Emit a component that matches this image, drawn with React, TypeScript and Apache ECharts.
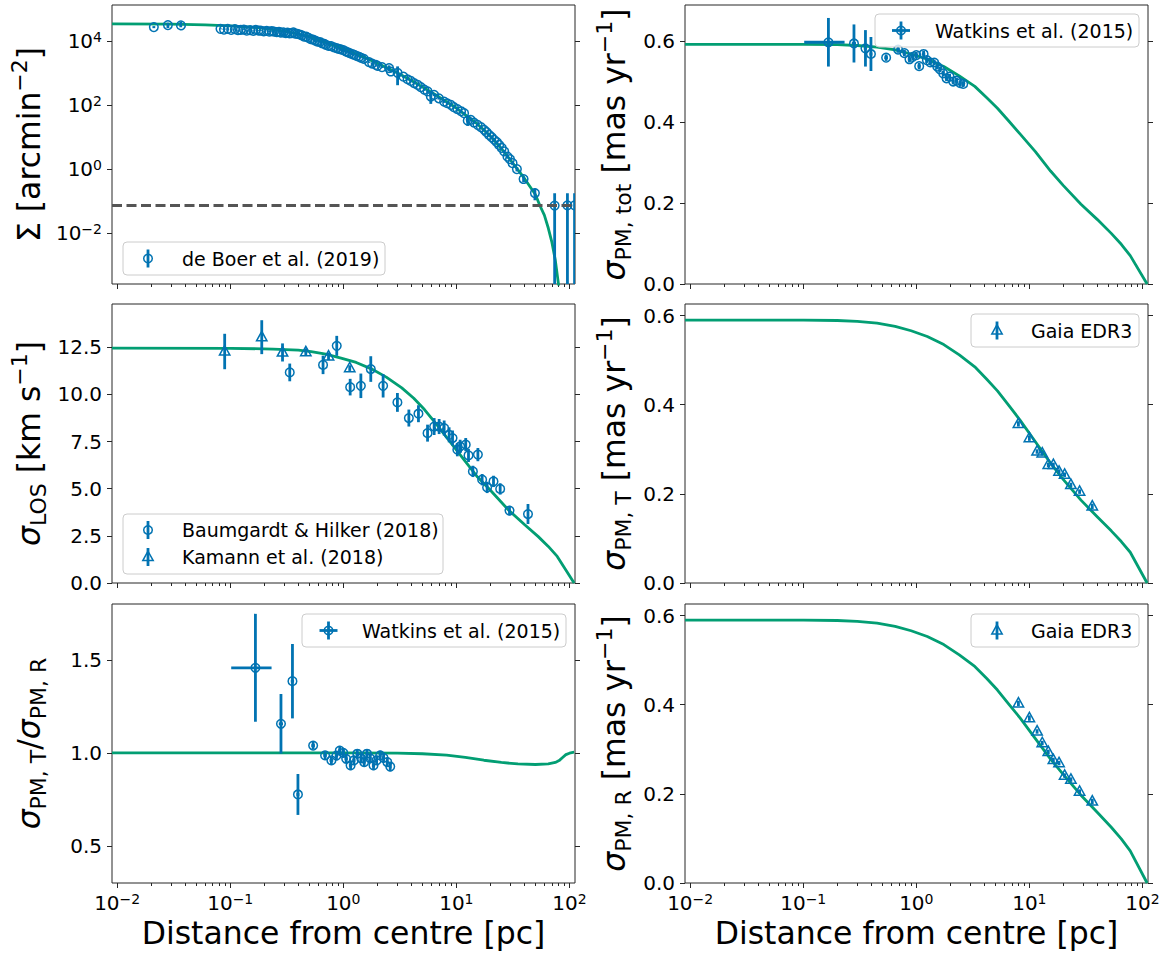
import React, { useEffect, useRef } from 'react';
import * as echarts from 'echarts';

const BLUE = '#0173b2';
const GREEN = '#029e73';
const INK = '#262626';
const FONT = 'DejaVu Sans';

// ---------- axes / ticks ----------
const X_MIN_PC = 0.009;
const X_MAX_PC = 112;
const xTickExps = [-2, -1, 0, 1, 2];
const sigmaTickExps = [-2, 0, 2, 4];
const losTicks = [0, 2.5, 5, 7.5, 10, 12.5];
const pmTicks = [0, 0.2, 0.4, 0.6];
const ratioTicks = [0.5, 1.0, 1.5];
const backgroundLevel = 0.07;

// ---------- surface density (de Boer et al. 2019) ----------
const deBoerR = [0.0211, 0.0281, 0.0365, 0.082, 0.088, 0.095, 0.102, 0.11, 0.117, 0.124, 0.132, 0.14, 0.15, 0.16, 0.168, 0.178, 0.186, 0.198, 0.21, 0.222, 0.233, 0.244, 0.258, 0.27, 0.28, 0.295, 0.31, 0.321, 0.335, 0.35, 0.362, 0.375, 0.393, 0.41, 0.43, 0.45, 0.47, 0.49, 0.515, 0.54, 0.565, 0.59, 0.62, 0.65, 0.68, 0.7, 0.74, 0.78, 0.828, 0.87, 0.91, 0.95, 1.0, 1.05, 1.09, 1.14, 1.2, 1.25, 1.31, 1.38, 1.44, 1.52, 1.69, 1.8, 1.94, 2.01, 2.2, 2.54, 2.63, 3.02, 3.4, 3.7, 3.95, 4.23, 4.55, 4.85, 5.2, 5.56, 5.94, 6.35, 7.0, 7.79, 8.3, 8.93, 9.5, 10.2, 11.0, 11.7, 12.6, 13.4, 14.3, 15.4, 16.5, 17.6, 18.5, 19.5, 20.5, 21.6, 22.8, 23.9, 25.2, 26.5, 28.3, 29.8, 31.4, 34.3, 39.3, 49.5, 74, 96, 111];
const deBoerSigma = [26900, 31000, 33000, 23700, 22500, 23700, 22000, 23200, 21500, 21900, 22500, 20900, 21500, 20500, 21900, 21000, 20900, 19800, 20500, 19500, 20000, 19500, 18800, 19000, 18100, 18500, 17500, 18100, 17000, 17500, 18500, 16800, 16500, 15800, 14800, 13600, 13500, 12500, 11300, 11000, 10200, 9500, 9200, 8400, 8000, 7500, 7000, 6800, 6300, 5900, 5600, 5400, 5100, 4700, 4400, 4100, 3850, 3650, 3400, 3150, 2950, 2750, 2150, 1950, 1780, 1650, 1500, 1410, 1100, 1000, 760, 630, 560, 480, 420, 357, 300, 262, 182, 205, 160, 126, 112, 100, 85, 74, 63, 55, 32, 34, 28, 23.7, 20, 16.6, 14, 11.5, 9.8, 8.1, 6.8, 5.6, 4.5, 3.5, 2.4, 2.0, 1.5, 0.98, 0.48, 0.174, 0.071, 0.072, 0.072];
const deBoerErr = [2000, 6000, 6500, 800, 800, 800, 700, 700, 700, 700, 700, 600, 600, 600, 600, 600, 600, 500, 500, 500, 500, 500, 500, 500, 450, 450, 450, 450, 400, 400, 400, 400, 400, 400, 350, 350, 350, 300, 300, 300, 300, 250, 250, 250, 200, 200, 200, 200, 180, 180, 160, 160, 150, 150, 140, 140, 130, 130, 120, 120, 110, 110, 100, 100, 90, 90, 90, 300, 80, 590, 60, 50, 45, 40, 35, 30, 25, 22, 75, 18, 14, 11, 10, 9, 8, 7, 6, 5, 10, 3, 2.5, 2, 1.8, 1.5, 1.3, 1.1, 0.9, 0.8, 0.7, 0.6, 0.5, 0.4, 0.3, 0.25, 0.2, 0.15, 0.1, 0.07, 0.1, 0.1, 0.1];

const sigmaModelR = [0.009, 0.03, 0.06, 0.1, 0.15, 0.2, 0.3, 0.4, 0.5, 0.7, 1.0, 1.5, 2, 3, 4, 5, 7, 10, 15, 20, 25, 30, 40, 50, 55, 60, 65, 70, 75, 80, 84];
const sigmaModel = [33900, 33100, 31600, 29500, 27000, 24500, 20000, 16200, 13500, 8900, 5620, 3160, 2000, 1000, 575, 363, 178, 79.4, 26.9, 10.5, 4.27, 1.91, 0.5, 0.158, 0.069, 0.0355, 0.0141, 0.005, 0.0014, 0.00025, 0.00005];

// ---------- line-of-sight dispersion ----------
const bhR = [0.336, 0.662, 0.875, 1.15, 1.43, 1.75, 2.25, 3.01, 3.8, 4.62, 5.56, 6.36, 7.04, 7.8, 8.63, 9.25, 10.2, 10.8, 12.1, 12.8, 14.0, 15.5, 16.9, 18.7, 21.3, 24.4, 29.5, 43];
const bhLos = [11.17, 11.57, 12.58, 10.39, 10.46, 11.35, 10.46, 9.58, 8.75, 8.98, 7.95, 8.3, 8.3, 8.22, 7.86, 7.69, 7.07, 7.25, 7.34, 6.77, 5.92, 6.81, 5.48, 5.07, 5.39, 4.99, 3.84, 3.66];
const bhErr = [0.47, 0.49, 0.53, 0.44, 0.65, 0.68, 0.62, 0.5, 0.45, 0.45, 0.45, 0.45, 0.4, 0.4, 0.4, 0.4, 0.35, 0.35, 0.35, 0.35, 0.3, 0.35, 0.3, 0.3, 0.3, 0.3, 0.25, 0.53];
const kamannR = [0.0893, 0.19, 0.29, 0.466, 0.74, 1.14];
const kamannLos = [12.28, 13.04, 12.23, 12.25, 12.02, 11.4];
const kamannErr = [0.94, 0.9, 0.48, 0.2, 0.2, 0.15];

const losModelR = [0.009, 0.1, 0.24, 0.4, 0.52, 0.7, 0.955, 1.3, 1.77, 2.4, 3.29, 4.2, 5.22, 6.6, 8.3, 11.3, 15.4, 20, 28.6, 40, 53, 65, 78, 110];
const losModel = [12.46, 12.45, 12.41, 12.35, 12.27, 12.14, 11.93, 11.7, 11.36, 10.92, 10.35, 9.8, 9.2, 8.45, 7.68, 6.65, 5.62, 4.92, 3.9, 3.1, 2.46, 1.94, 1.41, 0];

// ---------- proper motions (Watkins et al. 2015) ----------
const watkinsR = [0.167, 0.281, 0.355, 0.397, 0.541, 0.69, 0.785, 0.87, 0.93, 1.0, 1.06, 1.16, 1.24, 1.33, 1.44, 1.53, 1.62, 1.73, 1.85, 1.97, 2.12, 2.27, 2.45, 2.6];
const watkinsRErr = [0.065, 0.012, 0.012, 0.012, 0.02, 0.025, 0.03, 0.03, 0.03, 0.035, 0.035, 0.04, 0.04, 0.045, 0.045, 0.05, 0.05, 0.05, 0.06, 0.06, 0.06, 0.07, 0.07, 0.07];
const watkinsTot = [0.597, 0.594, 0.582, 0.568, 0.559, 0.579, 0.57, 0.555, 0.561, 0.565, 0.538, 0.568, 0.553, 0.547, 0.547, 0.537, 0.53, 0.52, 0.508, 0.512, 0.5, 0.502, 0.496, 0.494];
const watkinsTotErr = [0.06, 0.047, 0.045, 0.042, 0.008, 0.008, 0.008, 0.008, 0.008, 0.008, 0.008, 0.008, 0.007, 0.007, 0.007, 0.007, 0.007, 0.007, 0.007, 0.007, 0.007, 0.007, 0.007, 0.007];
const watkinsRatio = [1.457, 1.156, 1.385, 0.776, 1.039, 0.986, 0.959, 0.985, 1.012, 1.0, 0.968, 0.932, 0.959, 0.995, 0.97, 0.95, 0.995, 0.97, 0.932, 0.959, 0.986, 0.973, 0.95, 0.926];
const watkinsRatioErr = [0.29, 0.16, 0.2, 0.11, 0.02, 0.02, 0.02, 0.025, 0.025, 0.025, 0.025, 0.025, 0.025, 0.025, 0.025, 0.025, 0.025, 0.025, 0.025, 0.025, 0.025, 0.025, 0.025, 0.025];

// ---------- proper motions (Gaia EDR3) ----------
const gaiaR = [8.0, 10.0, 11.7, 13.0, 14.7, 16.3, 18.3, 20.5, 23.3, 27.8, 36.0];
const gaiaTan = [0.357, 0.325, 0.295, 0.291, 0.265, 0.265, 0.25, 0.243, 0.22, 0.205, 0.172];
const gaiaTanErr = [0.006, 0.006, 0.005, 0.005, 0.005, 0.005, 0.005, 0.005, 0.005, 0.005, 0.006];
const gaiaRad = [0.403, 0.37, 0.34, 0.314, 0.294, 0.276, 0.269, 0.241, 0.232, 0.205, 0.183];
const gaiaRadErr = [0.006, 0.006, 0.005, 0.005, 0.005, 0.005, 0.005, 0.005, 0.005, 0.005, 0.006];

// ---------- PM models ----------
const pmModelR = [0.009, 0.1, 0.2, 0.3, 0.45, 0.65, 0.9, 1.25, 1.75, 2.4, 3.29, 4.2, 5.22, 6.6, 8.3, 11.3, 15.4, 20, 28.6, 40, 53, 65, 78, 110];
const pmTotModel = [0.592, 0.592, 0.591, 0.589, 0.585, 0.578, 0.568, 0.555, 0.537, 0.514, 0.488, 0.46, 0.434, 0.402, 0.37, 0.327, 0.279, 0.243, 0.197, 0.159, 0.125, 0.098, 0.07, 0];
const pmTanModel = [0.59, 0.59, 0.589, 0.587, 0.583, 0.576, 0.566, 0.553, 0.535, 0.512, 0.485, 0.457, 0.431, 0.398, 0.365, 0.317, 0.269, 0.232, 0.186, 0.148, 0.117, 0.093, 0.069, 0];
const pmRadModel = [0.59, 0.59, 0.589, 0.587, 0.583, 0.576, 0.566, 0.553, 0.535, 0.512, 0.486, 0.459, 0.433, 0.401, 0.37, 0.324, 0.278, 0.243, 0.197, 0.158, 0.125, 0.099, 0.072, 0];
const ratioModelR = [0.009, 1, 3, 5, 8.2, 12, 17.5, 25, 35, 50, 65, 75, 81, 87, 93, 100, 110];
const ratioModel = [1.0, 1.0, 0.998, 0.995, 0.987, 0.975, 0.96, 0.948, 0.94, 0.937, 0.94, 0.948, 0.958, 0.975, 0.99, 0.998, 1.003];

// ---------- layout ----------
const lg = Math.log10;
const X_MIN = lg(X_MIN_PC);
const X_MAX = lg(X_MAX_PC);
const COL_LEFT = [112, 685];
const ROW_TOP = [5, 304, 604];
const GRID_W = 463;
const GRID_H = 279;
const TITLE_SIZE = 31.5;
const TICK_SIZE = 20;

const Y_LIMITS = [
  [-3.6, 5.12],
  [0, 0.689],
  [0, 14.8],
  [0, 0.626],
  [0.3, 1.8],
  [0, 0.626],
];

const minorTicks: number[] = [];
for (let k = -3; k <= 2; k++) {
  for (let m = 2; m <= 9; m++) {
    const v = lg(m * Math.pow(10, k));
    if (v > X_MIN && v < X_MAX) minorTicks.push(v);
  }
}

const powLabel = (v: number) => `{b|10}{s|${v < 0 ? '\u2212' : ''}${Math.abs(Math.round(v))}}`;
const tickRich = {
  b: { fontSize: TICK_SIZE, fontFamily: FONT, color: '#000', lineHeight: 22 },
  s: { fontSize: 14, fontFamily: FONT, color: '#000', lineHeight: 8, verticalAlign: 'top' },
};
const titleRich = {
  n: { fontSize: TITLE_SIZE, fontFamily: FONT, color: '#000', lineHeight: 41 },
  it: { fontSize: TITLE_SIZE, fontFamily: FONT, fontStyle: 'italic', color: '#000', lineHeight: 41 },
  sup: { fontSize: 22, fontFamily: FONT, color: '#000', lineHeight: 22, verticalAlign: 'top' },
  sub: { fontSize: 22, fontFamily: FONT, color: '#000', lineHeight: 22, verticalAlign: 'bottom' },
};

const NB = '\u00a0';
const yTitles = [
  `{n|\u03a3${NB}[arcmin}{sup|\u22122}{n|]}`,
  `{it|\u03c3}{sub|PM,${NB}tot}{n|${NB}[mas${NB}yr}{sup|\u22121}{n|]}`,
  `{it|\u03c3}{sub|LOS}{n|${NB}[km${NB}s}{sup|\u22121}{n|]}`,
  `{it|\u03c3}{sub|PM,${NB}T}{n|${NB}[mas${NB}yr}{sup|\u22121}{n|]}`,
  `{it|\u03c3}{sub|PM,${NB}T}{n|/}{it|\u03c3}{sub|PM,${NB}R}`,
  `{it|\u03c3}{sub|PM,${NB}R}{n|${NB}[mas${NB}yr}{sup|\u22121}{n|]}`,
];
const yTickValues = [sigmaTickExps, pmTicks, losTicks, pmTicks, ratioTicks, pmTicks];
const yNameGap = [63, 51, 63, 51, 63, 51];

const tickLine = { color: INK, width: 1 };

function buildOption() {
  const grid: any[] = [];
  const xAxis: any[] = [];
  const yAxis: any[] = [];
  for (let g = 0; g < 6; g++) {
    const row = Math.floor(g / 2);
    const col = g % 2;
    grid.push({
      left: COL_LEFT[col], top: ROW_TOP[row], width: GRID_W, height: GRID_H,
      show: true, borderColor: INK, borderWidth: 1, backgroundColor: 'transparent',
    });
    const bottomRow = row === 2;
    const xBase = {
      type: 'value', gridIndex: g, min: X_MIN, max: X_MAX, position: 'bottom',
      axisLine: { show: false, onZero: false }, splitLine: { show: false },
    };
    xAxis.push({
      ...xBase,
      axisTick: { show: true, length: 5, lineStyle: tickLine, customValues: xTickExps },
      axisLabel: bottomRow
        ? { show: true, customValues: xTickExps, formatter: powLabel, rich: tickRich, margin: 9, color: '#000' }
        : { show: false },
      name: bottomRow ? 'Distance from centre [pc]' : '',
      nameLocation: 'middle',
      nameGap: 33,
      nameTextStyle: { fontSize: TITLE_SIZE, fontFamily: FONT, color: '#000', lineHeight: 34 },
    });
    xAxis.push({
      ...xBase,
      axisTick: { show: true, length: 3, lineStyle: tickLine, customValues: minorTicks },
      axisLabel: { show: false },
    });
    const [ymin, ymax] = Y_LIMITS[g];
    const ticks = yTickValues[g];
    yAxis.push({
      type: 'value', gridIndex: g, min: ymin, max: ymax, position: 'left',
      axisLine: { show: false, onZero: false }, splitLine: { show: false },
      axisTick: { show: true, length: 5, lineStyle: tickLine, customValues: ticks },
      axisLabel: {
        show: true, customValues: ticks, margin: 10, color: '#000',
        fontSize: TICK_SIZE, fontFamily: FONT,
        formatter: g === 0 ? powLabel : (v: number) => v.toFixed(1),
        rich: g === 0 ? tickRich : undefined,
      },
      name: yTitles[g], nameLocation: 'middle', nameRotate: 90, nameGap: yNameGap[g],
      nameTextStyle: { fontSize: TITLE_SIZE, fontFamily: FONT, color: '#000', rich: titleRich },
    });
    yAxis.push({
      type: 'value', gridIndex: g, min: ymin, max: ymax, position: 'right',
      axisLine: { show: false, onZero: false }, splitLine: { show: false },
      axisTick: { show: true, length: 5, lineStyle: tickLine, customValues: ticks },
      axisLabel: { show: false },
    });
  }

  const modelLine = (g: number, r: number[], v: number[], logY = false, extra: any = {}) => ({
    type: 'line', xAxisIndex: 2 * g, yAxisIndex: 2 * g, showSymbol: false, symbol: 'none',
    smooth: false, clip: true, z: 2,
    lineStyle: { color: GREEN, width: 2.8, join: 'round' },
    data: r.map((ri, i) => [lg(ri), logY ? lg(v[i]) : v[i]]),
    ...extra,
  });

  const items = (r: number[], v: number[], e: number[], re: number[] | null, logY = false) =>
    r.map((ri, i) => {
      const f = (t: number) => (logY ? (t > 0 ? lg(t) : -10) : t);
      const rl = re ? Math.max(ri - re[i], 1e-6) : ri;
      const rh = re ? ri + re[i] : ri;
      return [lg(ri), f(v[i]), f(v[i] - e[i]), f(v[i] + e[i]), lg(rl), lg(rh)];
    });

  const errSeries = (g: number, data: number[][], marker: 'circle' | 'tri') => ({
    type: 'custom', xAxisIndex: 2 * g, yAxisIndex: 2 * g, clip: true, z: 3,
    encode: { x: 0, y: 1 },
    data,
    renderItem: (_p: any, api: any) => {
      const x = api.value(0), y = api.value(1);
      const p = api.coord([x, y]);
      const a = api.coord([x, api.value(2)]);
      const b = api.coord([x, api.value(3)]);
      const c = api.coord([api.value(4), y]);
      const d = api.coord([api.value(5), y]);
      const children: any[] = [];
      if (Math.abs(a[1] - b[1]) > 0.5) {
        children.push({ type: 'line', shape: { x1: p[0], y1: a[1], x2: p[0], y2: b[1] }, style: { stroke: BLUE, lineWidth: 2.8 } });
      }
      if (Math.abs(c[0] - d[0]) > 0.5) {
        children.push({ type: 'line', shape: { x1: c[0], y1: p[1], x2: d[0], y2: p[1] }, style: { stroke: BLUE, lineWidth: 2.8 } });
      }
      if (marker === 'circle') {
        children.push({ type: 'circle', shape: { cx: p[0], cy: p[1], r: 4.3 }, style: { fill: 'none', stroke: BLUE, lineWidth: 1.5 } });
      } else {
        children.push({
          type: 'polygon',
          shape: { points: [[p[0], p[1] - 5.8], [p[0] - 5.2, p[1] + 3.6], [p[0] + 5.2, p[1] + 3.6]] },
          style: { fill: 'none', stroke: BLUE, lineWidth: 1.5 },
        });
      }
      return { type: 'group', children };
    },
  });

  const series: any[] = [
    modelLine(0, sigmaModelR, sigmaModel, true, {
      markLine: {
        silent: true, symbol: 'none', label: { show: false },
        lineStyle: { color: '#555555', width: 2.8, type: [10, 4.5] },
        data: [{ yAxis: lg(backgroundLevel) }],
      },
    }),
    errSeries(0, items(deBoerR, deBoerSigma, deBoerErr, null, true), 'circle'),
    modelLine(1, pmModelR, pmTotModel),
    errSeries(1, items(watkinsR, watkinsTot, watkinsTotErr, watkinsRErr), 'circle'),
    modelLine(2, losModelR, losModel),
    errSeries(2, items(bhR, bhLos, bhErr, null), 'circle'),
    errSeries(2, items(kamannR, kamannLos, kamannErr, null), 'tri'),
    modelLine(3, pmModelR, pmTanModel),
    errSeries(3, items(gaiaR, gaiaTan, gaiaTanErr, null), 'tri'),
    modelLine(4, ratioModelR, ratioModel),
    errSeries(4, items(watkinsR, watkinsRatio, watkinsRatioErr, watkinsRErr), 'circle'),
    modelLine(5, pmModelR, pmRadModel),
    errSeries(5, items(gaiaR, gaiaRad, gaiaRadErr, null), 'tri'),
  ];

  // ---------- legends ----------
  const Z = 50;
  const vbar = (cx: number, cy: number) => ({ type: 'line', z: Z, shape: { x1: cx, y1: cy - 9, x2: cx, y2: cy + 9 }, style: { stroke: BLUE, lineWidth: 2.8 } });
  const hbar = (cx: number, cy: number) => ({ type: 'line', z: Z, shape: { x1: cx - 9, y1: cy, x2: cx + 9, y2: cy }, style: { stroke: BLUE, lineWidth: 2.8 } });
  const circ = (cx: number, cy: number) => ({ type: 'circle', z: Z, shape: { cx, cy, r: 4.3 }, style: { fill: 'none', stroke: BLUE, lineWidth: 1.5 } });
  const tri = (cx: number, cy: number) => ({
    type: 'polygon', z: Z,
    shape: { points: [[cx, cy - 5.8], [cx - 5.2, cy + 3.6], [cx + 5.2, cy + 3.6]] },
    style: { fill: 'none', stroke: BLUE, lineWidth: 1.5 },
  });
  const icon = (kind: string, cx: number, cy: number) => {
    if (kind === 'circle') return [vbar(cx, cy), circ(cx, cy)];
    if (kind === 'cross') return [vbar(cx, cy), hbar(cx, cy), circ(cx, cy)];
    return [vbar(cx, cy), tri(cx, cy)];
  };
  const legend = (x: number, y: number, w: number, h: number, entries: { label: string; kind: string; cy: number }[], iconX: number, textX: number) => {
    const children: any[] = [
      { type: 'rect', z: Z, shape: { x, y, width: w, height: h, r: 4 }, style: { fill: 'rgba(255,255,255,0.8)', stroke: '#cccccc', lineWidth: 1 } },
    ];
    entries.forEach((e) => {
      children.push(...icon(e.kind, iconX, e.cy));
      children.push({ type: 'text', z: Z, x: textX, y: e.cy, style: { text: e.label, fontSize: 19, fontFamily: FONT, fill: '#000', verticalAlign: 'middle', align: 'left' } });
    });
    return { type: 'group', children };
  };

  const graphic = [
    legend(123, 242, 262, 33, [{ label: 'de Boer et al. (2019)', kind: 'circle', cy: 258.5 }], 148, 182),
    legend(875, 14, 264, 33, [{ label: 'Watkins et al. (2015)', kind: 'cross', cy: 30.5 }], 901, 935),
    legend(123, 514, 320, 60, [
      { label: 'Baumgardt & Hilker (2018)', kind: 'circle', cy: 530 },
      { label: 'Kamann et al. (2018)', kind: 'tri', cy: 557 },
    ], 148, 182),
    legend(971, 314, 168, 33, [{ label: 'Gaia EDR3', kind: 'tri', cy: 330.5 }], 997, 1031),
    legend(302, 614, 264, 33, [{ label: 'Watkins et al. (2015)', kind: 'cross', cy: 630.5 }], 328.5, 362),
    legend(971, 614, 168, 33, [{ label: 'Gaia EDR3', kind: 'tri', cy: 630.5 }], 997, 1031),
  ];

  return {
    animation: false,
    backgroundColor: '#ffffff',
    textStyle: { fontFamily: FONT },
    grid, xAxis, yAxis, series, graphic,
  };
}

export default function App() {
  const ref = useRef<HTMLDivElement>(null);
  useEffect(() => {
    if (!ref.current) return;
    const chart = echarts.init(ref.current, null, { renderer: 'svg' });
    chart.setOption(buildOption() as any);
    return () => chart.dispose();
  }, []);
  return (
    <div
      ref={ref}
      style={{ position: 'fixed', left: 0, top: 0, width: 1170, height: 954, background: '#fff' }}
    />
  );
}
